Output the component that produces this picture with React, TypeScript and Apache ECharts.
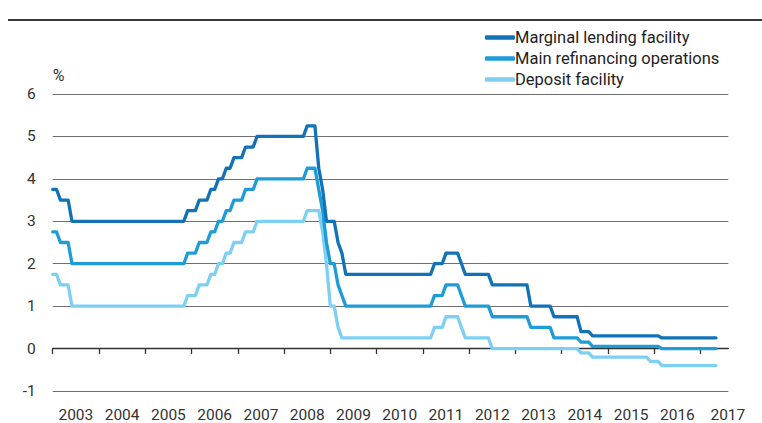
import React, { useEffect, useRef } from "react";
import * as echarts from "echarts";

const seriesNames = ["Marginal lending facility", "Main refinancing operations", "Deposit facility"];
const seriesColors = ["#1172b8", "#1e9cd8", "#7ecff4"];

// Line corners: [month, rate in %]
const marginalLending: [string, number][] = [
  ["2003-01", 3.75], ["2003-02", 3.75], ["2003-03", 3.5], ["2003-05", 3.5], ["2003-06", 3.0],
  ["2005-11", 3.0], ["2005-12", 3.25], ["2006-02", 3.25], ["2006-03", 3.5], ["2006-05", 3.5],
  ["2006-06", 3.75], ["2006-07", 3.75], ["2006-08", 4.0], ["2006-09", 4.0], ["2006-10", 4.25],
  ["2006-11", 4.25], ["2006-12", 4.5], ["2007-02", 4.5], ["2007-03", 4.75], ["2007-05", 4.75],
  ["2007-06", 5.0], ["2008-06", 5.0], ["2008-07", 5.25], ["2008-09", 5.25], ["2008-10", 4.25],
  ["2008-11", 3.75], ["2008-12", 3.0], ["2009-02", 3.0], ["2009-03", 2.5], ["2009-04", 2.25],
  ["2009-05", 1.75], ["2011-03", 1.75], ["2011-04", 2.0], ["2011-06", 2.0], ["2011-07", 2.25],
  ["2011-10", 2.25], ["2011-11", 2.0], ["2011-12", 1.75], ["2012-06", 1.75], ["2012-07", 1.5],
  ["2013-04", 1.5], ["2013-05", 1.0], ["2013-10", 1.0], ["2013-11", 0.75], ["2014-05", 0.75],
  ["2014-06", 0.4], ["2014-08", 0.4], ["2014-09", 0.3], ["2016-02", 0.3], ["2016-03", 0.25],
  ["2017-05", 0.25],
];

const mainRefinancing: [string, number][] = [
  ["2003-01", 2.75], ["2003-02", 2.75], ["2003-03", 2.5], ["2003-05", 2.5], ["2003-06", 2.0],
  ["2005-11", 2.0], ["2005-12", 2.25], ["2006-02", 2.25], ["2006-03", 2.5], ["2006-05", 2.5],
  ["2006-06", 2.75], ["2006-07", 2.75], ["2006-08", 3.0], ["2006-09", 3.0], ["2006-10", 3.25],
  ["2006-11", 3.25], ["2006-12", 3.5], ["2007-02", 3.5], ["2007-03", 3.75], ["2007-05", 3.75],
  ["2007-06", 4.0], ["2008-06", 4.0], ["2008-07", 4.25], ["2008-09", 4.25], ["2008-10", 3.75],
  ["2008-11", 3.25], ["2008-12", 2.5], ["2009-01", 2.0], ["2009-02", 2.0], ["2009-03", 1.5],
  ["2009-04", 1.25], ["2009-05", 1.0], ["2011-03", 1.0], ["2011-04", 1.25], ["2011-06", 1.25],
  ["2011-07", 1.5], ["2011-10", 1.5], ["2011-11", 1.25], ["2011-12", 1.0], ["2012-06", 1.0],
  ["2012-07", 0.75], ["2013-04", 0.75], ["2013-05", 0.5], ["2013-10", 0.5], ["2013-11", 0.25],
  ["2014-05", 0.25], ["2014-06", 0.15], ["2014-08", 0.15], ["2014-09", 0.05], ["2016-02", 0.05],
  ["2016-03", 0.0], ["2017-05", 0.0],
];

const depositFacility: [string, number][] = [
  ["2003-01", 1.75], ["2003-02", 1.75], ["2003-03", 1.5], ["2003-05", 1.5], ["2003-06", 1.0],
  ["2005-11", 1.0], ["2005-12", 1.25], ["2006-02", 1.25], ["2006-03", 1.5], ["2006-05", 1.5],
  ["2006-06", 1.75], ["2006-07", 1.75], ["2006-08", 2.0], ["2006-09", 2.0], ["2006-10", 2.25],
  ["2006-11", 2.25], ["2006-12", 2.5], ["2007-02", 2.5], ["2007-03", 2.75], ["2007-05", 2.75],
  ["2007-06", 3.0], ["2008-06", 3.0], ["2008-07", 3.25], ["2008-10", 3.25], ["2008-11", 2.75],
  ["2008-12", 2.0], ["2009-01", 1.0], ["2009-02", 1.0], ["2009-03", 0.5], ["2009-04", 0.25],
  ["2011-03", 0.25], ["2011-04", 0.5], ["2011-06", 0.5], ["2011-07", 0.75], ["2011-10", 0.75],
  ["2011-11", 0.5], ["2011-12", 0.25], ["2012-06", 0.25], ["2012-07", 0.0], ["2014-05", 0.0],
  ["2014-06", -0.1], ["2014-08", -0.1], ["2014-09", -0.2], ["2015-11", -0.2], ["2015-12", -0.3],
  ["2016-02", -0.3], ["2016-03", -0.4], ["2017-05", -0.4],
];

const yearTicks = [2003, 2004, 2005, 2006, 2007, 2008, 2009, 2010, 2011, 2012, 2013, 2014, 2015, 2016, 2017];
const yearLabelPositions = [
  2003.5, 2004.5, 2005.5, 2006.5, 2007.5, 2008.5, 2009.5, 2010.5, 2011.5, 2012.5,
  2013.5, 2014.5, 2015.5, 2016.5, 2017.59,
];
const X_MIN = 2003;
const X_MAX = 2017.6;

const toYear = (m: string) => {
  const [y, mo] = m.split("-").map(Number);
  return y + (mo - 1) / 12;
};
const toPoints = (arr: [string, number][]) => arr.map(([m, v]) => [toYear(m), v]);

const FONT = "Roboto, 'Noto Sans', sans-serif";

export default function App() {
  const ref = useRef<HTMLDivElement>(null);
  useEffect(() => {
    document.body.style.margin = "0";
    const chart = echarts.init(ref.current!, null, { renderer: "svg" });
    const all = [marginalLending, mainRefinancing, depositFacility];
    chart.setOption({
      animation: false,
      textStyle: { fontFamily: FONT },
      grid: { left: 52.7, right: 33.7, top: 94, bottom: 30.3, containLabel: false },
      legend: {
        orient: "vertical",
        left: 485,
        top: 29,
        padding: 0,
        itemWidth: 30,
        itemHeight: 4.5,
        itemGap: 4,
        icon: "roundRect",
        textStyle: { fontSize: 16.5, color: "#222", lineHeight: 17, fontFamily: FONT, padding: [0, 0, 0, -5] },
        data: seriesNames,
      },
      xAxis: {
        type: "value",
        min: X_MIN,
        max: X_MAX,
        axisLine: { show: true, lineStyle: { color: "#333", width: 1.3 } },
        axisTick: { show: true, length: 5.5, lineStyle: { color: "#333", width: 1.3 }, customValues: yearTicks },
        axisLabel: {
          customValues: yearLabelPositions,
          formatter: (v: number) => String(Math.floor(v)),
          fontSize: 15.5,
          color: "#333",
          margin: 16,
          fontFamily: FONT,
        },
        splitLine: { show: false },
      },
      yAxis: {
        type: "value",
        min: -1,
        max: 6,
        interval: 1,
        name: "%",
        nameLocation: "end",
        nameGap: 11,
        nameTextStyle: { align: "left", fontSize: 16, color: "#333", fontFamily: FONT },
        axisLine: { show: false },
        axisTick: { show: false },
        axisLabel: { fontSize: 15.5, color: "#333", margin: 17, fontFamily: FONT },
        splitLine: { show: true, lineStyle: { color: "#707070", width: 1.2 } },
      },
      graphic: [
        { type: "line", shape: { x1: 8, y1: 20, x2: 762, y2: 20 }, style: { stroke: "#3a3a3a", lineWidth: 2 } },
      ],
      series: all.map((arr, i) => ({
        name: seriesNames[i],
        type: "line",
        data: toPoints(arr),
        showSymbol: false,
        symbol: "none",
        z: 10 - i,
        color: seriesColors[i],
        lineStyle: { color: seriesColors[i], width: 3.3, cap: "round", join: "round" },
      })),
    });
    return () => chart.dispose();
  }, []);
  return <div ref={ref} style={{ width: 762, height: 423 }} />;
}
